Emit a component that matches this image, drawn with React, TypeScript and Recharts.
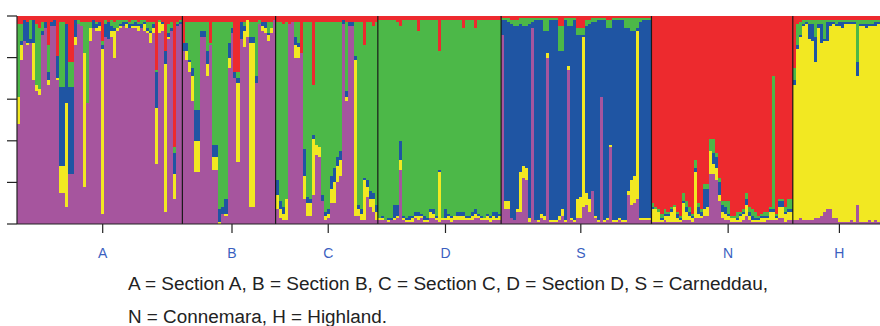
import React from 'react';
import { BarChart, Bar, XAxis, YAxis, ReferenceLine } from 'recharts';

// Each individual: share of red, green, blue, yellow, purple (read top -> bottom), in %
const sectionA = [
  [4, 35, 0, 13, 48], [4, 8, 2, 7, 79], [2, 0, 10, 0, 88], [3, 0, 10, 1, 86], [2, 9, 2, 0, 87],
  [2, 0, 11, 18, 69], [4, 29, 0, 3, 64], [6, 29, 0, 3, 62], [3, 4, 2, 0, 91], [3, 0, 3, 0, 94],
  [14, 13, 4, 2, 67], [3, 0, 2, 0, 95], [2, 0, 3, 0, 95], [19, 0, 11, 1, 69], [3, 31, 38, 13, 15],
  [3, 31, 38, 13, 15], [4, 0, 38, 50, 8], [22, 12, 42, 0, 24], [22, 12, 42, 0, 24], [2, 0, 8, 4, 86],
  [2, 2, 0, 0, 96], [3, 2, 0, 0, 95], [3, 15, 0, 64, 18], [3, 39, 0, 0, 58], [3, 3, 0, 6, 88],
  [2, 0, 4, 0, 94], [3, 1, 2, 1, 93], [3, 0, 2, 2, 93], [12, 2, 2, 79, 5], [2, 2, 6, 0, 90],
  [3, 0, 8, 0, 89], [2, 3, 2, 3, 90], [3, 3, 1, 13, 80], [2, 4, 0, 1, 93], [2, 2, 1, 1, 94],
  [2, 1, 2, 0, 95], [2, 1, 1, 2, 94], [3, 1, 2, 0, 94], [2, 2, 1, 1, 94], [2, 1, 2, 1, 94],
  [3, 1, 1, 2, 93], [2, 2, 2, 0, 94], [2, 1, 1, 3, 93], [3, 3, 1, 1, 92], [3, 4, 1, 5, 87],
  [3, 1, 2, 2, 92], [26, 1, 17, 27, 29], [2, 1, 0, 5, 92], [3, 0, 1, 3, 93], [17, 0, 6, 71, 6],
  [4, 4, 2, 1, 89], [3, 3, 1, 0, 93], [63, 3, 10, 12, 12], [3, 1, 1, 0, 95], [2, 1, 1, 0, 96],
];

const sectionB = [
  [13, 0, 4, 0, 83], [3, 10, 4, 4, 79], [3, 18, 1, 5, 73], [3, 22, 4, 12, 59], [3, 42, 15, 15, 25],
  [3, 42, 15, 15, 25], [3, 4, 3, 0, 90], [3, 4, 3, 0, 90], [3, 14, 6, 6, 71], [13, 1, 0, 0, 86],
  [3, 59, 6, 6, 26], [3, 59, 6, 6, 26], [3, 90, 6, 1, 0], [3, 89, 3, 0, 5], [3, 85, 7, 1, 4],
  [3, 10, 7, 5, 75], [3, 3, 2, 0, 92], [27, 0, 3, 0, 70], [27, 3, 2, 38, 30], [3, 0, 8, 0, 89],
  [3, 2, 2, 8, 85], [2, 0, 0, 8, 90], [3, 7, 3, 79, 8], [3, 7, 3, 79, 8], [3, 26, 3, 0, 68],
  [2, 2, 0, 0, 96], [3, 0, 2, 2, 93], [3, 0, 3, 2, 92], [3, 5, 1, 3, 88], [3, 3, 0, 2, 92],
  [2, 0, 0, 0, 98],
];

const sectionC = [
  [3, 76, 7, 7, 7], [3, 86, 4, 4, 3], [4, 88, 3, 3, 2], [3, 85, 0, 10, 2], [4, 0, 0, 0, 96],
  [3, 0, 0, 0, 97], [3, 7, 4, 6, 80], [3, 10, 2, 5, 80], [18, 0, 0, 0, 82], [3, 61, 13, 11, 12],
  [3, 84, 3, 6, 4], [3, 85, 2, 6, 4], [33, 24, 2, 27, 14], [3, 59, 0, 5, 33], [3, 60, 0, 5, 32],
  [3, 83, 3, 0, 11], [3, 91, 2, 2, 2], [3, 90, 2, 2, 3], [3, 74, 6, 7, 10], [3, 70, 7, 10, 10],
  [3, 65, 4, 8, 20], [3, 62, 4, 8, 23], [2, 0, 2, 0, 96], [3, 33, 3, 2, 59], [3, 0, 2, 0, 95],
  [3, 0, 2, 0, 95], [3, 16, 2, 75, 4], [3, 88, 2, 3, 4], [3, 90, 2, 3, 2], [14, 64, 1, 19, 2],
  [3, 76, 3, 5, 13], [3, 81, 4, 4, 8], [5, 80, 3, 6, 6], [3, 88, 3, 4, 2],
];

const sectionD = [
  [2, 95, 0, 1, 2], [2, 94, 1, 1, 2], [2, 96, 0, 0, 2], [2, 95, 1, 1, 1], [2, 95, 1, 0, 2],
  [2, 89, 6, 1, 2], [3, 88, 5, 1, 3], [5, 55, 9, 5, 26], [2, 94, 1, 1, 2], [2, 95, 1, 1, 1],
  [2, 94, 2, 1, 1], [2, 94, 1, 2, 1], [2, 92, 2, 1, 3], [7, 87, 2, 2, 2], [2, 93, 1, 1, 3],
  [2, 94, 2, 1, 1], [2, 95, 1, 1, 1], [2, 91, 1, 3, 3], [2, 91, 2, 2, 3], [2, 94, 1, 1, 2],
  [17, 57, 1, 24, 1], [2, 95, 0, 1, 2], [2, 91, 4, 1, 2], [2, 93, 1, 2, 2], [2, 94, 1, 2, 1],
  [2, 94, 0, 2, 2], [2, 92, 2, 2, 2], [2, 92, 2, 2, 2], [6, 88, 2, 2, 2], [2, 94, 1, 1, 2],
  [2, 94, 1, 1, 2], [2, 92, 2, 2, 2], [6, 87, 2, 2, 3], [2, 93, 1, 1, 3], [2, 94, 1, 1, 2],
  [2, 95, 0, 1, 2], [2, 93, 1, 2, 2], [2, 94, 1, 2, 1], [2, 92, 2, 2, 2], [2, 92, 3, 1, 2],
  [2, 93, 1, 2, 2],
];

const carneddau = [
  [1, 1, 7, 0, 91], [1, 1, 87, 4, 7], [1, 2, 86, 4, 7], [2, 2, 93, 0, 3], [2, 3, 93, 0, 2],
  [2, 3, 88, 1, 6], [1, 3, 71, 19, 6], [1, 4, 67, 6, 22], [1, 4, 68, 6, 21], [1, 3, 93, 2, 1],
  [1, 2, 3, 0, 94], [1, 1, 96, 0, 2], [1, 1, 96, 1, 1], [1, 1, 93, 2, 3], [1, 6, 89, 2, 2],
  [1, 6, 11, 2, 80], [1, 1, 96, 1, 1], [1, 1, 96, 1, 1], [1, 1, 96, 1, 1], [5, 12, 79, 2, 2],
  [5, 12, 76, 3, 4], [1, 1, 96, 1, 1], [1, 4, 19, 2, 74], [1, 4, 92, 1, 2], [1, 1, 96, 1, 1],
  [6, 3, 79, 9, 3], [6, 3, 78, 10, 3], [6, 3, 1, 82, 8], [2, 3, 80, 6, 9], [2, 2, 84, 6, 6],
  [1, 2, 81, 0, 16], [1, 2, 93, 1, 3], [1, 1, 96, 1, 1], [1, 1, 37, 0, 61], [1, 1, 96, 1, 1],
  [2, 4, 91, 1, 2], [2, 4, 56, 1, 37], [1, 1, 96, 1, 1], [1, 1, 96, 1, 1], [1, 1, 95, 1, 2],
  [1, 1, 96, 1, 1], [1, 5, 92, 1, 1], [1, 5, 78, 2, 14], [1, 6, 72, 12, 9], [1, 6, 70, 13, 10],
  [1, 5, 1, 81, 12], [1, 2, 94, 1, 2], [1, 1, 95, 1, 2], [1, 1, 95, 1, 2], [1, 1, 95, 1, 2],
];

const connemara = [
  [90, 2, 1, 6, 1], [92, 1, 0, 6, 1], [93, 1, 0, 5, 1], [95, 2, 1, 1, 1], [93, 2, 1, 2, 2],
  [94, 1, 1, 3, 1], [92, 1, 1, 5, 1], [91, 1, 0, 7, 1], [94, 1, 2, 2, 1], [96, 1, 1, 1, 1],
  [85, 4, 1, 8, 2], [89, 3, 2, 4, 2], [92, 2, 2, 2, 2], [95, 1, 1, 2, 1], [69, 4, 2, 22, 3],
  [90, 2, 3, 2, 3], [93, 1, 2, 1, 3], [81, 2, 10, 3, 4], [81, 2, 9, 4, 4], [59, 6, 0, 11, 24],
  [59, 7, 5, 5, 24], [66, 2, 5, 6, 21], [78, 2, 6, 3, 11], [89, 2, 3, 3, 3], [89, 3, 3, 3, 2],
  [89, 6, 1, 2, 2], [96, 1, 0, 2, 1], [96, 1, 0, 2, 1], [94, 3, 1, 1, 1], [94, 1, 1, 3, 1],
  [93, 1, 1, 3, 2], [85, 3, 3, 5, 4], [92, 2, 2, 2, 2], [93, 3, 2, 1, 1], [94, 3, 1, 1, 1],
  [96, 1, 1, 1, 1], [95, 1, 1, 2, 1], [94, 2, 1, 2, 1], [94, 2, 1, 1, 2], [92, 1, 1, 4, 2],
  [29, 64, 1, 4, 2], [95, 1, 1, 1, 2], [88, 1, 3, 5, 3], [88, 1, 3, 5, 3], [92, 2, 1, 4, 1],
  [88, 5, 1, 4, 2], [88, 5, 1, 4, 2],
];

const highland = [
  [25, 6, 2, 65, 2], [4, 10, 2, 82, 2], [3, 6, 1, 87, 3], [2, 2, 1, 93, 2], [2, 1, 1, 94, 2],
  [2, 2, 7, 87, 2], [2, 2, 8, 86, 2], [2, 8, 12, 75, 3], [2, 2, 2, 91, 3], [2, 2, 9, 83, 4],
  [2, 9, 1, 82, 6], [2, 1, 9, 81, 7], [2, 1, 2, 88, 7], [2, 1, 1, 93, 3], [2, 2, 1, 92, 3],
  [2, 1, 2, 94, 1], [2, 1, 3, 93, 1], [2, 1, 1, 95, 1], [2, 1, 1, 95, 1], [2, 1, 1, 94, 2],
  [2, 1, 1, 95, 1], [2, 20, 7, 62, 9], [2, 2, 1, 94, 1], [2, 2, 1, 94, 1], [2, 2, 2, 93, 1],
  [2, 2, 1, 93, 2], [2, 2, 1, 94, 1], [2, 1, 2, 93, 2], [2, 1, 1, 95, 1],
];

const groups = [sectionA, sectionB, sectionC, sectionD, carneddau, connemara, highland];
const groupLabels = ['A', 'B', 'C', 'D', 'S', 'N', 'H'];
// individual under each group tick
const labelAt = [28, 71, 103, 142, 187, 236, 273];

const COLORS = {
  p: '#a6559e',
  y: '#f2e822',
  b: '#1f55a3',
  g: '#4cb848',
  r: '#ed2a2e',
};

const rows = groups.flat().map((q, i) => ({ id: i, r: q[0], g: q[1], b: q[2], y: q[3], p: q[4] }));

const boundaries: number[] = [];
groups.reduce((acc, g, i) => {
  if (i > 0) boundaries.push(acc);
  return acc + g.length;
}, 0);

// snap each segment to whole pixels (slightly widened) so neighbours meet without seams
const SnapRect = (props: any) => {
  const { x, y, width, height, fill } = props;
  if (!height || height <= 0) return null;
  const x0 = Math.round(x - 0.02);
  const x1 = Math.round(x + width + 0.02);
  const y0 = Math.round(y);
  const y1 = Math.round(y + height);
  if (y1 <= y0) return null;
  return <rect x={x0} y={y0} width={x1 - x0} height={y1 - y0} fill={fill} shapeRendering="crispEdges" />;
};

const GroupTick = ({ x, y, payload }: any) => {
  const idx = labelAt.indexOf(payload.value);
  if (idx < 0) return null;
  return (
    <g>
      <line x1={x} x2={x} y1={y} y2={y + 9} stroke="#222" strokeWidth={1.2} />
      <text
        x={x}
        y={y + 34}
        textAnchor="middle"
        fill="#3b5fbf"
        fontSize={14}
        fontFamily="'Liberation Sans', Arial, sans-serif"
      >
        {groupLabels[idx]}
      </text>
    </g>
  );
};

export default function App() {
  return (
    <div style={{ position: 'absolute', left: 0, top: 0, width: 880, height: 326, background: '#fff' }}>
      <BarChart
        width={880}
        height={260}
        data={rows}
        stackOffset="expand"
        barCategoryGap={0}
        barGap={0}
        margin={{ top: 16, right: 0, left: 0, bottom: 0 }}
      >
        <XAxis
          dataKey="id"
          interval={0}
          height={36}
          tickLine={false}
          tickSize={0}
          tickMargin={0}
          axisLine={{ stroke: '#222', strokeWidth: 1.2 }}
          tick={<GroupTick />}
        />
        <YAxis
          width={17}
          domain={[0, 1]}
          ticks={[0, 0.2, 0.4, 0.6, 0.8, 1]}
          tickSize={10}
          tickFormatter={() => ''}
          axisLine={{ stroke: '#222', strokeWidth: 1.2 }}
          tickLine={{ stroke: '#222', strokeWidth: 1.2 }}
        />
        <Bar dataKey="p" stackId="q" fill={COLORS.p} shape={SnapRect} isAnimationActive={false} />
        <Bar dataKey="y" stackId="q" fill={COLORS.y} shape={SnapRect} isAnimationActive={false} />
        <Bar dataKey="b" stackId="q" fill={COLORS.b} shape={SnapRect} isAnimationActive={false} />
        <Bar dataKey="g" stackId="q" fill={COLORS.g} shape={SnapRect} isAnimationActive={false} />
        <Bar dataKey="r" stackId="q" fill={COLORS.r} shape={SnapRect} isAnimationActive={false} />
        {boundaries.map((b) => (
          <ReferenceLine key={b} x={b} position="start" stroke="#1a1a1a" strokeWidth={1.2} />
        ))}
      </BarChart>
      <svg width={880} height={66} style={{ position: 'absolute', left: 0, top: 260 }}>
        <text
          x={128}
          y={30}
          fontSize={18}
          fill="#222"
          fontFamily="'Liberation Sans', Arial, sans-serif"
          textLength={640}
          lengthAdjust="spacingAndGlyphs"
        >
          A = Section A, B = Section B, C = Section C, D = Section D, S = Carneddau,
        </text>
        <text
          x={128}
          y={63}
          fontSize={18}
          fill="#222"
          fontFamily="'Liberation Sans', Arial, sans-serif"
          textLength={259}
          lengthAdjust="spacingAndGlyphs"
        >
          N = Connemara, H = Highland.
        </text>
      </svg>
    </div>
  );
}
